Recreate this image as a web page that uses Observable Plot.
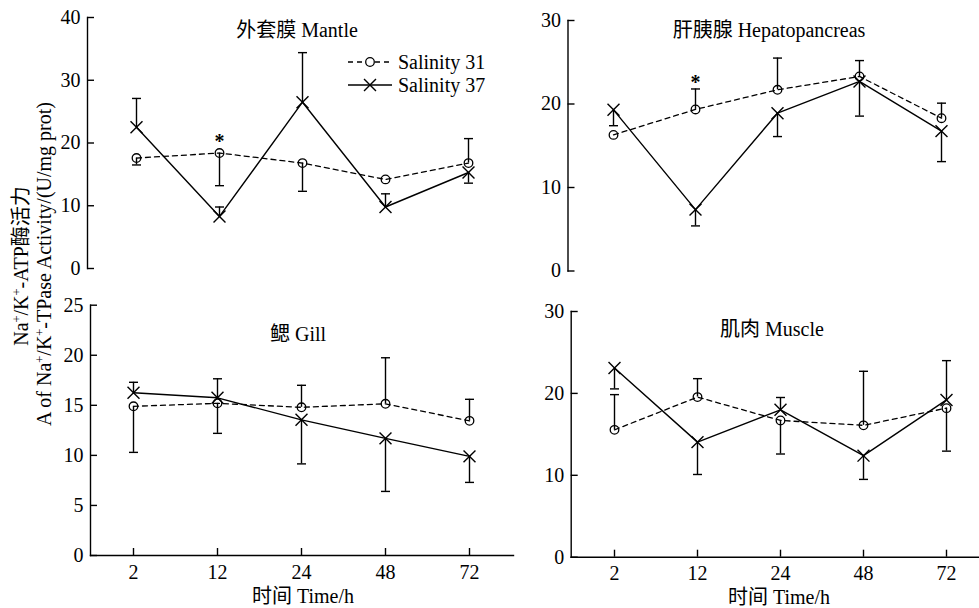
<!DOCTYPE html>
<html>
<head>
<meta charset="utf-8">
<script src="https://cdn.jsdelivr.net/npm/d3@7"></script>
<script src="https://cdn.jsdelivr.net/npm/@observablehq/plot@0.6"></script>
<style>
  html, body { margin: 0; padding: 0; background: #fff; }
  #wrap { position: relative; width: 979px; height: 608px; overflow: hidden; background: #fff;
          font-family: "Liberation Serif", "Noto Sans CJK SC", serif; color: #000; }
  #wrap svg { position: absolute; left: 0; top: 0; }
  #wrap svg text { font-family: "Liberation Serif", "Noto Sans CJK SC", serif; }
  .lbl { position: absolute; font-size: 20px; white-space: nowrap; transform: translate(-50%, -50%); line-height: 1; }
  .ylab { position: absolute; font-size: 20px; white-space: nowrap; line-height: 1;
          transform: translate(-50%, -50%) rotate(-90deg); }
  sup { font-size: 0.62em; vertical-align: 0.55em; line-height: 0; }
</style>
</head>
<body>
<div id="wrap"></div>
<script>
// ---------------- data ----------------
const times = ["2", "12", "24", "48", "72"];
const seriesNames = ["Salinity 31", "Salinity 37"];

// 外套膜 Mantle
const mantle31 = [17.6, 18.4, 16.8, 14.2, 16.8];
const mantle31Bar = [16.5, 13.2, 12.3, null, 20.7];
const mantle37 = [22.5, 8.3, 26.5, 9.8, 15.3];
const mantle37Bar = [27.1, 9.8, 34.4, 11.9, 13.6];
const mantleTicks = [0, 10, 20, 30, 40];
const mantleSig = [{t: "12", v: 20.3}];

// 肝胰腺 Hepatopancreas
const hepato31 = [16.3, 19.35, 21.7, 23.3, 18.3];
const hepato31Bar = [null, 21.8, 25.5, 25.2, 20.1];
const hepato37 = [19.3, 7.35, 18.9, 22.7, 16.75];
const hepato37Bar = [17.4, 5.4, 16.1, 18.55, 13.1];
const hepatoTicks = [0, 10, 20, 30];
const hepatoSig = [{t: "12", v: 22.6}];

// 鳃 Gill
const gill31 = [14.9, 15.2, 14.8, 15.15, 13.45];
const gill31Bar = [10.3, 12.2, 17.0, 19.75, 15.6];
const gill37 = [16.25, 15.75, 13.55, 11.7, 9.9];
const gill37Bar = [17.3, 17.65, 9.15, 6.4, 7.3];
const gillTicks = [0, 5, 10, 15, 20, 25];

// 肌肉 Muscle
const muscle31 = [15.55, 19.55, 16.7, 16.1, 18.2];
const muscle31Bar = [19.85, 21.8, 12.6, 22.7, 12.95];
const muscle37 = [23.1, 14.05, 18.0, 12.4, 19.2];
const muscle37Bar = [20.55, 10.1, 19.5, 9.5, 24.0];
const muscleTicks = [0, 10, 20, 30];

// ---------------- drawing ----------------
const W = 979, H = 608;
const font = "Liberation Serif, Noto Sans CJK SC, serif";
const wrap = document.getElementById("wrap");

const capSymbol = { draw(ctx) { ctx.moveTo(-4.5, 0); ctx.lineTo(4.5, 0); } };
const crossR = 5.5;

function rows(vals, bars) {
  return times.map((t, i) => ({t, v: vals[i], e: bars[i]}));
}

function panel(cfg) {
  const r31 = rows(cfg.s31, cfg.b31);
  const r37 = rows(cfg.s37, cfg.b37);
  const bars = [...r31, ...r37].filter(d => d.e != null);
  const sw = 1.3;
  const marks = [
    Plot.frame({anchor: "left", stroke: "black", strokeWidth: 1.4}),
    Plot.axisY({ticks: cfg.ticks, tickSize: -7, tickPadding: 14, fontSize: 20, strokeWidth: 1.4, label: null}),
    Plot.line(r31, {x: "t", y: "v", stroke: "black", strokeWidth: sw, strokeDasharray: "5,4"}),
    Plot.line(r37, {x: "t", y: "v", stroke: "black", strokeWidth: 1.4}),
    Plot.ruleX(bars, {x: "t", y1: "v", y2: "e", stroke: "black", strokeWidth: 1.4}),
    Plot.dot(bars, {x: "t", y: "e", symbol: capSymbol, stroke: "black", strokeWidth: 1.4}),
    Plot.dot(r31, {x: "t", y: "v", r: 4.3, stroke: "black", fill: "none", strokeWidth: sw}),
    Plot.dot(r37, {x: "t", y: "v", symbol: "times", r: crossR, stroke: "black", strokeWidth: 1.4})
  ];
  if (cfg.sig) marks.push(Plot.text(cfg.sig, {x: "t", y: "v", text: () => "*", fontSize: 20, fontWeight: "bold"}));
  if (cfg.xAxis) {
    marks.push(Plot.frame({anchor: "bottom", stroke: "black", strokeWidth: 1.4}));
    marks.push(Plot.axisX({tickSize: -7, tickPadding: 16, fontSize: 20, strokeWidth: 1.4, label: null}));
  }
  const svg = Plot.plot({
    width: W, height: H,
    marginLeft: cfg.left, marginRight: W - cfg.right,
    marginTop: cfg.top, marginBottom: H - cfg.bottom,
    style: {fontFamily: font, fontSize: "20px", background: "transparent", overflow: "visible"},
    x: {type: "point", domain: times, range: cfg.xRange, padding: 0, axis: null},
    y: {domain: [0, cfg.ticks[cfg.ticks.length - 1]], axis: null},
    marks
  });
  wrap.appendChild(svg);
}

panel({s31: mantle31, b31: mantle31Bar, s37: mantle37, b37: mantle37Bar, ticks: mantleTicks, sig: mantleSig,
       left: 87, right: 490, top: 17, bottom: 268, xRange: [135, 469], xAxis: false});
panel({s31: hepato31, b31: hepato31Bar, s37: hepato37, b37: hepato37Bar, ticks: hepatoTicks, sig: hepatoSig,
       left: 567.5, right: 979, top: 20, bottom: 270.5, xRange: [612.3, 941.7], xAxis: false});
panel({s31: gill31, b31: gill31Bar, s37: gill37, b37: gill37Bar, ticks: gillTicks,
       left: 90, right: 513, top: 304.7, bottom: 555, xRange: [132.3, 470.5], xAxis: true});
panel({s31: muscle31, b31: muscle31Bar, s37: muscle37, b37: muscle37Bar, ticks: muscleTicks,
       left: 570.7, right: 979, top: 311, bottom: 556.7, xRange: [613.3, 946.7], xAxis: true});

// ---------------- text ----------------
function label(html, x, y, cls = "lbl") {
  const d = document.createElement("div");
  d.className = cls;
  d.style.left = x + "px";
  d.style.top = y + "px";
  d.innerHTML = html;
  wrap.appendChild(d);
}
label("外套膜 Mantle", 297, 30);
label("肝胰腺 Hepatopancreas", 769, 30);
label("鳃 Gill", 298, 334);
label("肌肉 Muscle", 772, 329);
label("时间 Time/h", 303, 596);
label("时间 Time/h", 779, 597);
label("Na<sup>+</sup>/K<sup>+</sup>-ATP酶活力", 21, 266, "ylab");
label("A of Na<sup>+</sup>/K<sup>+</sup>-TPase Activity/(U/mg prot)", 44, 264, "ylab");

// legend
const leg = d3.select(wrap).append("svg")
  .attr("width", W).attr("height", H);
const legRows = [
  {name: seriesNames[0], y: 62, dash: "5,4", sym: "circle"},
  {name: seriesNames[1], y: 85, dash: null, sym: "times"}
];
legRows.forEach(r => {
  leg.append("line").attr("x1", 348).attr("x2", 392).attr("y1", r.y).attr("y2", r.y)
    .attr("stroke", "black").attr("stroke-width", 1.3).attr("stroke-dasharray", r.dash);
  if (r.sym === "circle") {
    leg.append("circle").attr("cx", 370).attr("cy", r.y).attr("r", 4.3)
      .attr("fill", "white").attr("stroke", "black").attr("stroke-width", 1.3);
  } else {
    leg.append("path").attr("transform", `translate(370,${r.y})`)
      .attr("d", d3.symbol(d3.symbolTimes, Math.PI * crossR * crossR)())
      .attr("fill", "none").attr("stroke", "black").attr("stroke-width", 1.4);
  }
  leg.append("text").attr("x", 398).attr("y", r.y).attr("dy", "0.35em")
    .attr("font-size", 20).text(r.name);
});
</script>
</body>
</html>
